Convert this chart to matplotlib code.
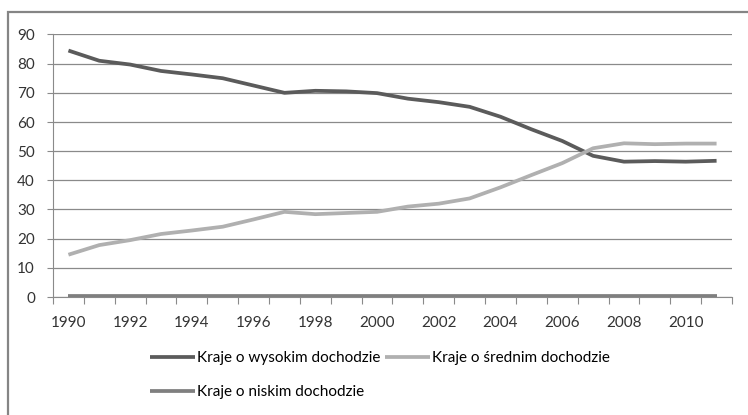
import matplotlib.pyplot as plt
import numpy as np
from matplotlib.patches import Rectangle

years = list(range(1990, 2012))
wysoki = [84.5, 81.0, 79.7, 77.5, 76.3, 75.0, 72.5, 70.0, 70.7, 70.5, 69.9,
          68.0, 66.8, 65.2, 61.8, 57.5, 53.5, 48.4, 46.4, 46.6, 46.4, 46.7]
sredni = [14.5, 17.8, 19.5, 21.6, 22.8, 24.1, 26.6, 29.2, 28.4, 28.8, 29.2,
          31.0, 32.0, 33.8, 37.6, 41.8, 45.9, 51.0, 52.7, 52.4, 52.6, 52.6]
niski = [0.3] * len(years)
year_labels = [str(y) for y in years[::2]]

plt.rcParams['font.family'] = ['Lato', 'DejaVu Sans']

fig = plt.figure(figsize=(7.48, 4.15), dpi=100)
ax = fig.add_axes([53 / 748, 1 - 297 / 415, (732 - 53) / 748, (297 - 34.5) / 415])

# outer chart frame (cropped on the right and bottom)
fig.patches.append(Rectangle((8 / 748, -0.1), 1.2, 1 - 12 / 415 + 0.1,
                             transform=fig.transFigure, fill=False,
                             edgecolor='#858585', linewidth=1.6))

x = np.arange(len(years))
l1, = ax.plot(x, wysoki, color='#5b5b5b', lw=2.7, solid_capstyle='butt', label='Kraje o wysokim dochodzie')
l2, = ax.plot(x, sredni, color='#b0b0b0', lw=2.7, solid_capstyle='butt', label='Kraje o średnim dochodzie')
l3, = ax.plot(x, niski, color='#7f7f7f', lw=2.7, solid_capstyle='butt', label='Kraje o niskim dochodzie')

ax.set_xlim(-0.5, len(years) - 0.5)
ax.set_ylim(0, 90)
ax.set_yticks(range(0, 91, 10))
ax.yaxis.grid(True, color='#8a8a8a', lw=0.9)
ax.set_axisbelow(True)

ax.set_xticks(np.arange(-0.5, len(years), 1.0))
ax.set_xticklabels([])
ax.set_xticks(x[::2], minor=True)
ax.set_xticklabels(year_labels, minor=True)
ax.tick_params(axis='x', which='major', length=5, color='#8a8a8a')
ax.tick_params(axis='x', which='minor', length=0, pad=14, labelsize=11, labelcolor='#333333')
ax.tick_params(axis='y', length=4, color='#8a8a8a', labelsize=11, labelcolor='#333333', pad=9)

for s in ['top', 'right']:
    ax.spines[s].set_visible(False)
for s in ['left', 'bottom']:
    ax.spines[s].set_color('#8a8a8a')

fig.legend(handles=[l1, l3, l2], ncol=2, loc='upper left',
           bbox_to_anchor=(150 / 748, 1 - 351 / 415), frameon=False,
           fontsize=11, handlelength=2.95, handletextpad=0.15,
           columnspacing=0.25, labelspacing=1.33, borderpad=0, borderaxespad=0)

fig.savefig('out.png', dpi=100)
